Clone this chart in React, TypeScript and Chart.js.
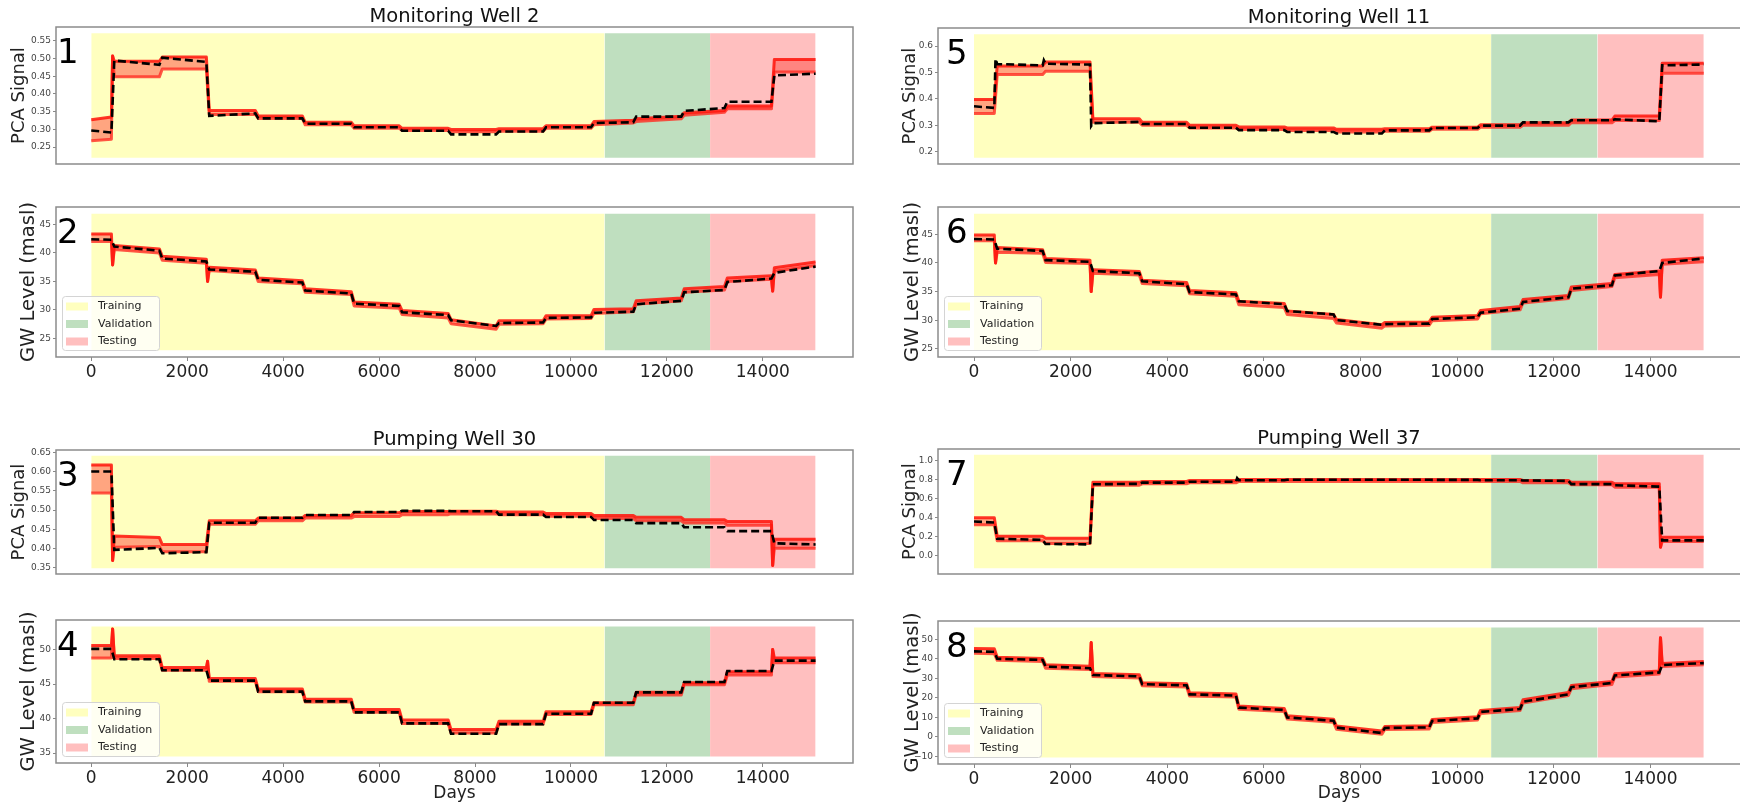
import React, { useEffect, useRef } from 'react';
import { Chart, registerables } from 'chart.js';

Chart.register(...registerables);
Chart.defaults.font.family = "'DejaVu Sans', 'Liberation Sans', sans-serif";

// ---------------- shared data ----------------
const stepDays = [0, 420, 1420, 2400, 3420, 4400, 5420, 6420, 7440, 8440, 9420, 10420, 11300, 12300, 13200, 14180, 15100];
const splitDays = [0, 10700, 12900, 15100];
const splitNames = ['Training', 'Validation', 'Testing'];
const xTicks = [0, 2000, 4000, 6000, 8000, 10000, 12000, 14000];
const xTickLabels = ['0', '2000', '4000', '6000', '8000', '10000', '12000', '14000'];

// ---------------- Monitoring Well 2 ----------------
const mw2PcaObs = [[0.297, 0.291], [0.494, 0.482], [0.502, 0.490], [0.338, 0.345], 0.331, 0.316, 0.306, 0.296, 0.286, 0.294, 0.306, [0.318, 0.320], 0.336, [0.352, 0.360], 0.378, [0.452, 0.457]];
const mw2PcaLo = [[0.268, 0.272], 0.448, 0.470, 0.342, 0.331, 0.313, 0.303, 0.297, 0.293, 0.295, 0.303, [0.313, 0.318], [0.322, 0.330], [0.340, 0.348], 0.358, 0.462];
const mw2PcaHi = [[0.327, 0.335], 0.492, 0.504, 0.353, 0.338, 0.320, 0.310, 0.303, 0.300, 0.302, 0.310, [0.322, 0.326], [0.330, 0.337], [0.347, 0.353], 0.366, 0.497];
const mw2PcaSpikes = [[1, 0.507]];
const mw2PcaObsSpikes: number[][] = [];
const mw2PcaShade = [0.22, 0.571];
const mw2PcaTicks = [0.25, 0.30, 0.35, 0.40, 0.45, 0.50, 0.55];
const mw2PcaTickLabels = ['0.25', '0.30', '0.35', '0.40', '0.45', '0.50', '0.55'];

const mw2GwObs = [[42.4, 42.3], [41.1, 40.4], [39.0, 38.5], [37.1, 36.7], [35.3, 34.8], [33.4, 32.9], [31.1, 30.7], [29.6, 29.1], [28.2, 27.2], [27.7, 27.8], [28.6, 28.7], [29.5, 29.7], [31.0, 31.6], [33.1, 33.5], [34.9, 35.5], [36.5, 37.6]];
const mw2GwLo = [[42.0, 42.0], [40.6, 40.0], [38.7, 38.2], [36.9, 36.4], [35.0, 34.6], [33.1, 32.7], [30.7, 30.3], [29.2, 28.6], [27.6, 26.6], [27.5, 27.6], [28.4, 28.5], [29.4, 29.7], [31.0, 31.6], [33.1, 33.5], [35.0, 35.4], [36.8, 37.8]];
const mw2GwHi = [[43.3, 43.3], [41.3, 40.7], [39.4, 38.9], [37.5, 37.0], [35.6, 35.1], [33.7, 33.2], [31.4, 31.0], [29.9, 29.4], [28.3, 27.2], [28.1, 28.1], [29.0, 29.0], [30.1, 30.2], [31.6, 32.1], [33.7, 34.1], [35.6, 36.0], [37.4, 38.4]];
const mw2GwSpikes = [[1, 37.9], [3, 35.0], [15, 33.3]];
const mw2GwObsSpikes: number[][] = [];
const mw2GwShade = [22.95, 46.85];
const mw2GwTicks = [25, 30, 35, 40, 45];
const mw2GwTickLabels = ['25', '30', '35', '40', '45'];

// ---------------- Pumping Well 30 ----------------
const pw30PcaObs = [0.601, [0.396, 0.401], [0.387, 0.390], 0.467, 0.480, 0.487, 0.495, 0.498, 0.497, 0.488, 0.482, 0.474, 0.466, 0.455, 0.445, [0.413, 0.410]];
const pw30PcaLo = [0.545, [0.403, 0.405], 0.391, 0.463, 0.472, 0.479, 0.483, 0.488, 0.490, 0.488, 0.484, 0.478, 0.472, 0.466, 0.460, 0.400];
const pw30PcaHi = [0.618, [0.432, 0.428], 0.410, 0.472, 0.479, 0.486, 0.493, 0.496, 0.497, 0.495, 0.491, 0.486, 0.481, 0.475, 0.470, 0.424];
const pw30PcaSpikes = [[1, 0.368], [15, 0.355]];
const pw30PcaObsSpikes: number[][] = [];
const pw30PcaShade = [0.3475, 0.6425];
const pw30PcaTicks = [0.35, 0.40, 0.45, 0.50, 0.55, 0.60, 0.65];
const pw30PcaTickLabels = ['0.35', '0.40', '0.45', '0.50', '0.55', '0.60', '0.65'];

const pw30GwObs = [50.1, 48.6, 47.0, 45.5, 43.9, 42.5, 40.9, 39.3, 37.8, 39.2, 40.7, 42.3, 43.8, 45.3, 46.9, 48.4];
const pw30GwLo = [48.8, 48.7, 47.0, 45.4, 43.9, 42.4, 40.9, 39.3, 37.9, 39.2, 40.6, 42.0, 43.4, 44.9, 46.3, 48.1];
const pw30GwHi = [50.6, 49.1, 47.4, 45.8, 44.3, 42.8, 41.3, 39.8, 38.4, 39.6, 41.0, 42.3, 43.8, 45.2, 46.8, 48.8];
const pw30GwSpikes = [[1, 53.0], [3, 48.3], [15, 50.0]];
const pw30GwObsSpikes: number[][] = [];
const pw30GwShade = [34.5, 53.35];
const pw30GwTicks = [35, 40, 45, 50];
const pw30GwTickLabels = ['35', '40', '45', '50'];

// ---------------- Monitoring Well 11 ----------------
const mw11PcaObs = [[0.372, 0.366], [0.532, 0.527], [0.533, 0.530], [0.308, 0.313], 0.305, 0.291, 0.282, 0.275, 0.269, 0.281, 0.290, 0.299, 0.311, 0.319, [0.323, 0.315], [0.527, 0.530]];
const mw11PcaLo = [0.345, 0.492, 0.505, 0.312, 0.300, 0.290, 0.284, 0.280, 0.275, 0.278, 0.285, 0.293, 0.300, 0.310, 0.318, 0.497];
const mw11PcaHi = [0.398, 0.525, 0.540, 0.325, 0.312, 0.300, 0.294, 0.290, 0.285, 0.287, 0.293, 0.302, 0.310, 0.320, 0.335, 0.535];
const mw11PcaSpikes: number[][] = [];
const mw11PcaObsSpikes = [[1, 0.552], [2, 0.546], [3, 0.298]];
const mw11PcaShade = [0.177, 0.645];
const mw11PcaTicks = [0.2, 0.3, 0.4, 0.5, 0.6];
const mw11PcaTickLabels = ['0.2', '0.3', '0.4', '0.5', '0.6'];

const mw11GwObs = [[44.2, 44.1], [42.5, 42.1], [40.5, 40.2], [38.6, 38.2], [36.8, 36.3], [34.9, 34.5], [33.3, 32.8], [31.6, 31.0], [30.0, 29.2], [29.3, 29.4], [30.2, 30.5], [31.3, 32.0], [33.2, 34.0], [35.5, 36.1], [37.8, 38.6], [40.0, 40.8]];
const mw11GwLo = [[43.9, 43.9], [41.9, 41.7], [40.1, 39.9], [38.2, 37.9], [36.4, 36.0], [34.6, 34.2], [32.7, 32.2], [31.0, 30.3], [29.5, 28.6], [29.0, 29.1], [29.9, 30.2], [31.1, 31.8], [33.0, 33.8], [35.2, 35.9], [37.4, 38.0], [39.8, 40.2]];
const mw11GwHi = [[44.9, 44.9], [42.7, 42.3], [40.8, 40.5], [38.8, 38.5], [37.0, 36.6], [35.2, 34.8], [33.3, 32.9], [31.6, 31.0], [30.1, 29.2], [29.6, 29.7], [30.5, 30.8], [31.7, 32.4], [33.6, 34.3], [35.8, 36.4], [38.0, 38.6], [40.5, 40.9]];
const mw11GwSpikes = [[1, 40.0], [3, 35.0], [15, 34.0]];
const mw11GwObsSpikes: number[][] = [];
const mw11GwShade = [24.75, 48.6];
const mw11GwTicks = [25, 30, 35, 40, 45];
const mw11GwTickLabels = ['25', '30', '35', '40', '45'];

// ---------------- Pumping Well 37 ----------------
const pw37PcaObs = [[0.36, 0.35], [0.18, 0.168], [0.125, 0.12], [0.75, 0.755], 0.767, 0.776, 0.793, 0.797, 0.797, 0.797, 0.796, 0.792, [0.79, 0.785], 0.752, [0.74, 0.725], 0.163];
const pw37PcaLo = [0.325, 0.16, 0.13, 0.74, 0.755, 0.765, 0.78, 0.78, 0.78, 0.78, 0.78, 0.78, 0.765, 0.745, 0.72, 0.15];
const pw37PcaHi = [0.40, 0.205, 0.185, 0.77, 0.78, 0.79, 0.80, 0.80, 0.80, 0.80, 0.80, 0.80, 0.79, 0.77, 0.755, 0.195];
const pw37PcaSpikes = [[15, 0.09]];
const pw37PcaObsSpikes = [[6, 0.815]];
const pw37PcaShade = [-0.13, 1.06];
const pw37PcaTicks = [0.0, 0.2, 0.4, 0.6, 0.8, 1.0];
const pw37PcaTickLabels = ['0.0', '0.2', '0.4', '0.6', '0.8', '1.0'];

const pw37GwObs = [[43.8, 43.6], [40.0, 39.4], [36.0, 35.2], [31.7, 31.0], [27.0, 26.4], [21.8, 21.2], [15.0, 13.8], [10.0, 8.3], [4.8, 2.0], [4.6, 4.9], [8.2, 9.5], [12.8, 14.3], [18.0, 21.8], [25.5, 27.6], [31.5, 33.0], [36.8, 37.8]];
const pw37GwLo = [[42.8, 42.6], [39.2, 38.6], [35.2, 34.5], [30.9, 30.2], [26.2, 25.6], [21.0, 20.4], [14.2, 13.0], [9.2, 7.5], [4.0, 1.4], [3.8, 4.1], [7.4, 8.7], [12.0, 13.5], [17.4, 21.2], [24.7, 26.8], [30.7, 32.2], [36.0, 37.0]];
const pw37GwHi = [[45.3, 45.1], [40.8, 40.2], [37.0, 36.2], [32.5, 31.8], [27.8, 27.2], [22.6, 22.0], [15.8, 14.6], [10.8, 9.1], [5.6, 3.0], [5.4, 5.7], [9.0, 10.3], [13.6, 15.1], [19.0, 22.8], [26.3, 28.4], [32.3, 33.8], [37.6, 38.6]];
const pw37GwSpikes = [[3, 48.3], [15, 50.8]];
const pw37GwObsSpikes: number[][] = [];
const pw37GwShade = [-10.5, 56.0];
const pw37GwTicks = [-10, 0, 10, 20, 30, 40, 50];
const pw37GwTickLabels = ['\u221210', '0', '10', '20', '30', '40', '50'];

// ---------------- layout / style ----------------
const splitColors = ['rgb(255,255,191)', 'rgb(191,223,191)', 'rgb(255,191,191)'];
const TRANS = 60;

const columns = [
  { left: 0, width: 870, boxLeft: 56, boxRight: 853, xMin: -735, xMax: 15880, numDx: 1, pcaLabelX: 19.5, gwLabelX: 29, rightBorder: true },
  { left: 870, width: 870, boxLeft: 938, boxRight: 1740, xMin: -745, xMax: 15850, numDx: 8, pcaLabelX: 40, gwLabelX: 43, rightBorder: false },
];

type Seg = number | number[];
interface PanelCfg {
  num: string; col: number; top: number; height: number; boxTop: number; boxBottom: number;
  title?: string; kind: 'pca' | 'gw'; days?: boolean;
  obs: Seg[]; lo: Seg[]; hi: Seg[]; spikes: number[][]; obsSpikes: number[][];
  shade: number[]; yTicks: number[]; yLabels: string[];
}

const panels: PanelCfg[] = [
  { num: '1', col: 0, top: 0, height: 190, boxTop: 27, boxBottom: 177, title: 'Monitoring Well 2', kind: 'pca',
    obs: mw2PcaObs, lo: mw2PcaLo, hi: mw2PcaHi, spikes: mw2PcaSpikes, obsSpikes: mw2PcaObsSpikes, shade: mw2PcaShade, yTicks: mw2PcaTicks, yLabels: mw2PcaTickLabels },
  { num: '2', col: 0, top: 190, height: 210, boxTop: 207, boxBottom: 357, kind: 'gw',
    obs: mw2GwObs, lo: mw2GwLo, hi: mw2GwHi, spikes: mw2GwSpikes, obsSpikes: mw2GwObsSpikes, shade: mw2GwShade, yTicks: mw2GwTicks, yLabels: mw2GwTickLabels },
  { num: '3', col: 0, top: 400, height: 210, boxTop: 450, boxBottom: 592, title: 'Pumping Well 30', kind: 'pca',
    obs: pw30PcaObs, lo: pw30PcaLo, hi: pw30PcaHi, spikes: pw30PcaSpikes, obsSpikes: pw30PcaObsSpikes, shade: pw30PcaShade, yTicks: pw30PcaTicks, yLabels: pw30PcaTickLabels },
  { num: '4', col: 0, top: 610, height: 194, boxTop: 620, boxBottom: 763, kind: 'gw', days: true,
    obs: pw30GwObs, lo: pw30GwLo, hi: pw30GwHi, spikes: pw30GwSpikes, obsSpikes: pw30GwObsSpikes, shade: pw30GwShade, yTicks: pw30GwTicks, yLabels: pw30GwTickLabels },
  { num: '5', col: 1, top: 0, height: 190, boxTop: 28, boxBottom: 177, title: 'Monitoring Well 11', kind: 'pca',
    obs: mw11PcaObs, lo: mw11PcaLo, hi: mw11PcaHi, spikes: mw11PcaSpikes, obsSpikes: mw11PcaObsSpikes, shade: mw11PcaShade, yTicks: mw11PcaTicks, yLabels: mw11PcaTickLabels },
  { num: '6', col: 1, top: 190, height: 210, boxTop: 207, boxBottom: 357, kind: 'gw',
    obs: mw11GwObs, lo: mw11GwLo, hi: mw11GwHi, spikes: mw11GwSpikes, obsSpikes: mw11GwObsSpikes, shade: mw11GwShade, yTicks: mw11GwTicks, yLabels: mw11GwTickLabels },
  { num: '7', col: 1, top: 400, height: 210, boxTop: 449, boxBottom: 592, title: 'Pumping Well 37', kind: 'pca',
    obs: pw37PcaObs, lo: pw37PcaLo, hi: pw37PcaHi, spikes: pw37PcaSpikes, obsSpikes: pw37PcaObsSpikes, shade: pw37PcaShade, yTicks: pw37PcaTicks, yLabels: pw37PcaTickLabels },
  { num: '8', col: 1, top: 610, height: 194, boxTop: 621, boxBottom: 764, kind: 'gw', days: true,
    obs: pw37GwObs, lo: pw37GwLo, hi: pw37GwHi, spikes: pw37GwSpikes, obsSpikes: pw37GwObsSpikes, shade: pw37GwShade, yTicks: pw37GwTicks, yLabels: pw37GwTickLabels },
];

function buildLine(segs: Seg[], spikes: number[][]) {
  const pts: { x: number; y: number }[] = [];
  for (let i = 0; i < segs.length; i++) {
    const s = segs[i];
    const a = Array.isArray(s) ? s[0] : s;
    const b = Array.isArray(s) ? s[1] : s;
    if (i === 0) {
      pts.push({ x: stepDays[0], y: a });
    } else {
      const sp = spikes.find((k) => k[0] === i);
      if (sp) pts.push({ x: stepDays[i] + 25, y: sp[1] });
      pts.push({ x: stepDays[i] + TRANS, y: a });
    }
    pts.push({ x: stepDays[i + 1], y: b });
  }
  return pts;
}

const decorPlugin = {
  id: 'decor',
  afterDraw(chart: any, _args: any, o: any) {
    const { ctx, chartArea: a } = chart;
    ctx.save();
    if (o.legend) {
      const lw = 97, lh = 54;
      const lx = a.left + 6, ly = a.bottom - 7 - lh;
      ctx.beginPath();
      ctx.roundRect(lx + 0.5, ly + 0.5, lw, lh, 3);
      ctx.fillStyle = 'rgba(255,255,255,0.8)';
      ctx.fill();
      ctx.strokeStyle = '#d4d4d4';
      ctx.lineWidth = 1;
      ctx.stroke();
      ctx.font = "11px 'DejaVu Sans'";
      ctx.textBaseline = 'middle';
      ctx.textAlign = 'left';
      splitNames.forEach((n, i) => {
        const cy = ly + 10.5 + i * 17.5;
        ctx.fillStyle = splitColors[i];
        ctx.fillRect(lx + 4, cy - 4, 22, 8);
        ctx.fillStyle = '#222';
        ctx.fillText(n, lx + 36, cy);
      });
    }
    // frame
    ctx.strokeStyle = '#8c8c8c';
    ctx.lineWidth = 1.5;
    ctx.beginPath();
    ctx.moveTo(a.right, a.top);
    ctx.lineTo(a.left, a.top);
    ctx.lineTo(a.left, a.bottom);
    ctx.lineTo(a.right, a.bottom);
    if (o.rightBorder) ctx.closePath();
    ctx.stroke();
    // title
    if (o.title) {
      ctx.font = "19.5px 'DejaVu Sans'";
      ctx.fillStyle = '#111';
      ctx.textAlign = 'center';
      ctx.textBaseline = 'middle';
      ctx.fillText(o.title, (a.left + a.right) / 2, a.top - 10);
    }
    // panel number
    ctx.font = "34px 'DejaVu Sans'";
    ctx.fillStyle = '#000';
    ctx.textAlign = 'left';
    ctx.textBaseline = 'alphabetic';
    ctx.fillText(o.num, a.left + o.numDx, a.top + 35.5);
    ctx.restore();
  },
};

function makeConfig(p: PanelCfg): any {
  const col = columns[p.col];
  const span = p.shade[1] - p.shade[0];
  const yMin = p.shade[0] - 0.05 * span;
  const yMax = p.shade[1] + 0.05 * span;
  const isGw = p.kind === 'gw';
  const labelSize = isGw ? 19.5 : 18;
  const labelCenter = isGw ? col.gwLabelX : col.pcaLabelX;
  const canvasBottom = p.top + p.height;
  const yAxisWidth = col.boxLeft - col.left;
  const xAxisHeight = canvasBottom - p.boxBottom;
  const shadeSets = splitColors.map((c, i) => ({
    data: [{ x: splitDays[i], y: p.shade[1] }, { x: splitDays[i + 1], y: p.shade[1] }],
    fill: { value: p.shade[0] },
    backgroundColor: c,
    borderColor: 'rgba(0,0,0,0)',
    borderWidth: 0,
    pointRadius: 0,
    order: 5,
  }));
  return {
    type: 'line',
    data: {
      datasets: [
        { data: buildLine(p.obs, p.obsSpikes), borderColor: '#000', borderWidth: 2.6, borderDash: [8, 4], pointRadius: 0, fill: false, order: 0 },
        { data: buildLine(p.hi, p.spikes), borderColor: 'rgba(255,20,10,0.85)', borderWidth: 3, borderJoinStyle: 'round', pointRadius: 0, fill: '+1', backgroundColor: 'rgba(255,75,65,0.5)', order: 1 },
        { data: buildLine(p.lo, p.spikes), borderColor: 'rgba(255,45,35,0.8)', borderWidth: 3, borderJoinStyle: 'round', pointRadius: 0, fill: false, order: 2 },
        ...shadeSets,
      ],
    },
    options: {
      animation: false,
      responsive: false,
      maintainAspectRatio: false,
      devicePixelRatio: 1,
      events: [],
      layout: {
        padding: {
          left: 0,
          right: col.left + col.width - col.boxRight,
          top: p.boxTop - p.top,
          bottom: isGw ? 0 : canvasBottom - p.boxBottom,
        },
      },
      plugins: {
        legend: { display: false },
        tooltip: { enabled: false },
        filler: { drawTime: 'beforeDatasetsDraw' },
        decor: { legend: isGw, title: p.title, num: p.num, numDx: col.numDx, rightBorder: col.rightBorder },
      },
      scales: {
        x: {
          type: 'linear',
          min: col.xMin,
          max: col.xMax,
          display: isGw,
          afterFit: (s: any) => { s.height = xAxisHeight; },
          afterBuildTicks: (s: any) => { s.ticks = xTicks.map((v) => ({ value: v })); },
          ticks: { callback: (_v: any, i: number) => xTickLabels[i], font: { size: 17 }, color: '#222', maxRotation: 0, autoSkip: false, padding: 1 },
          grid: { drawOnChartArea: false, drawTicks: true, tickLength: 4, color: '#888' },
          border: { display: false },
          title: { display: !!p.days, text: 'Days', font: { size: 17 }, color: '#222', padding: { top: 0, bottom: 0 } },
        },
        y: {
          type: 'linear',
          min: yMin,
          max: yMax,
          afterFit: (s: any) => { s.width = yAxisWidth; },
          afterBuildTicks: (s: any) => { s.ticks = p.yTicks.map((v) => ({ value: v })); },
          ticks: { callback: (_v: any, i: number) => p.yLabels[i], font: { size: 9 }, color: '#444', autoSkip: false, padding: 2 },
          grid: { drawOnChartArea: false, drawTicks: true, tickLength: 3, color: '#888' },
          border: { display: false },
          title: { display: true, text: isGw ? 'GW Level (masl)' : 'PCA Signal', font: { size: labelSize }, color: '#222', padding: { top: labelCenter - (labelSize * 1.2) / 2, bottom: 0 } },
        },
      },
    },
    plugins: [decorPlugin],
  };
}

function Panel({ cfg }: { cfg: PanelCfg }) {
  const ref = useRef<HTMLCanvasElement>(null);
  const col = columns[cfg.col];
  useEffect(() => {
    const chart = new Chart(ref.current as HTMLCanvasElement, makeConfig(cfg));
    return () => chart.destroy();
  }, [cfg]);
  return (
    <canvas
      ref={ref}
      width={col.width}
      height={cfg.height}
      style={{ position: 'absolute', left: col.left, top: cfg.top, width: col.width, height: cfg.height }}
    />
  );
}

export default function App() {
  return (
    <div style={{ position: 'absolute', left: 0, top: 0, width: 1740, height: 804, background: '#fff', overflow: 'hidden' }}>
      {panels.map((p) => (
        <Panel key={p.num} cfg={p} />
      ))}
    </div>
  );
}
